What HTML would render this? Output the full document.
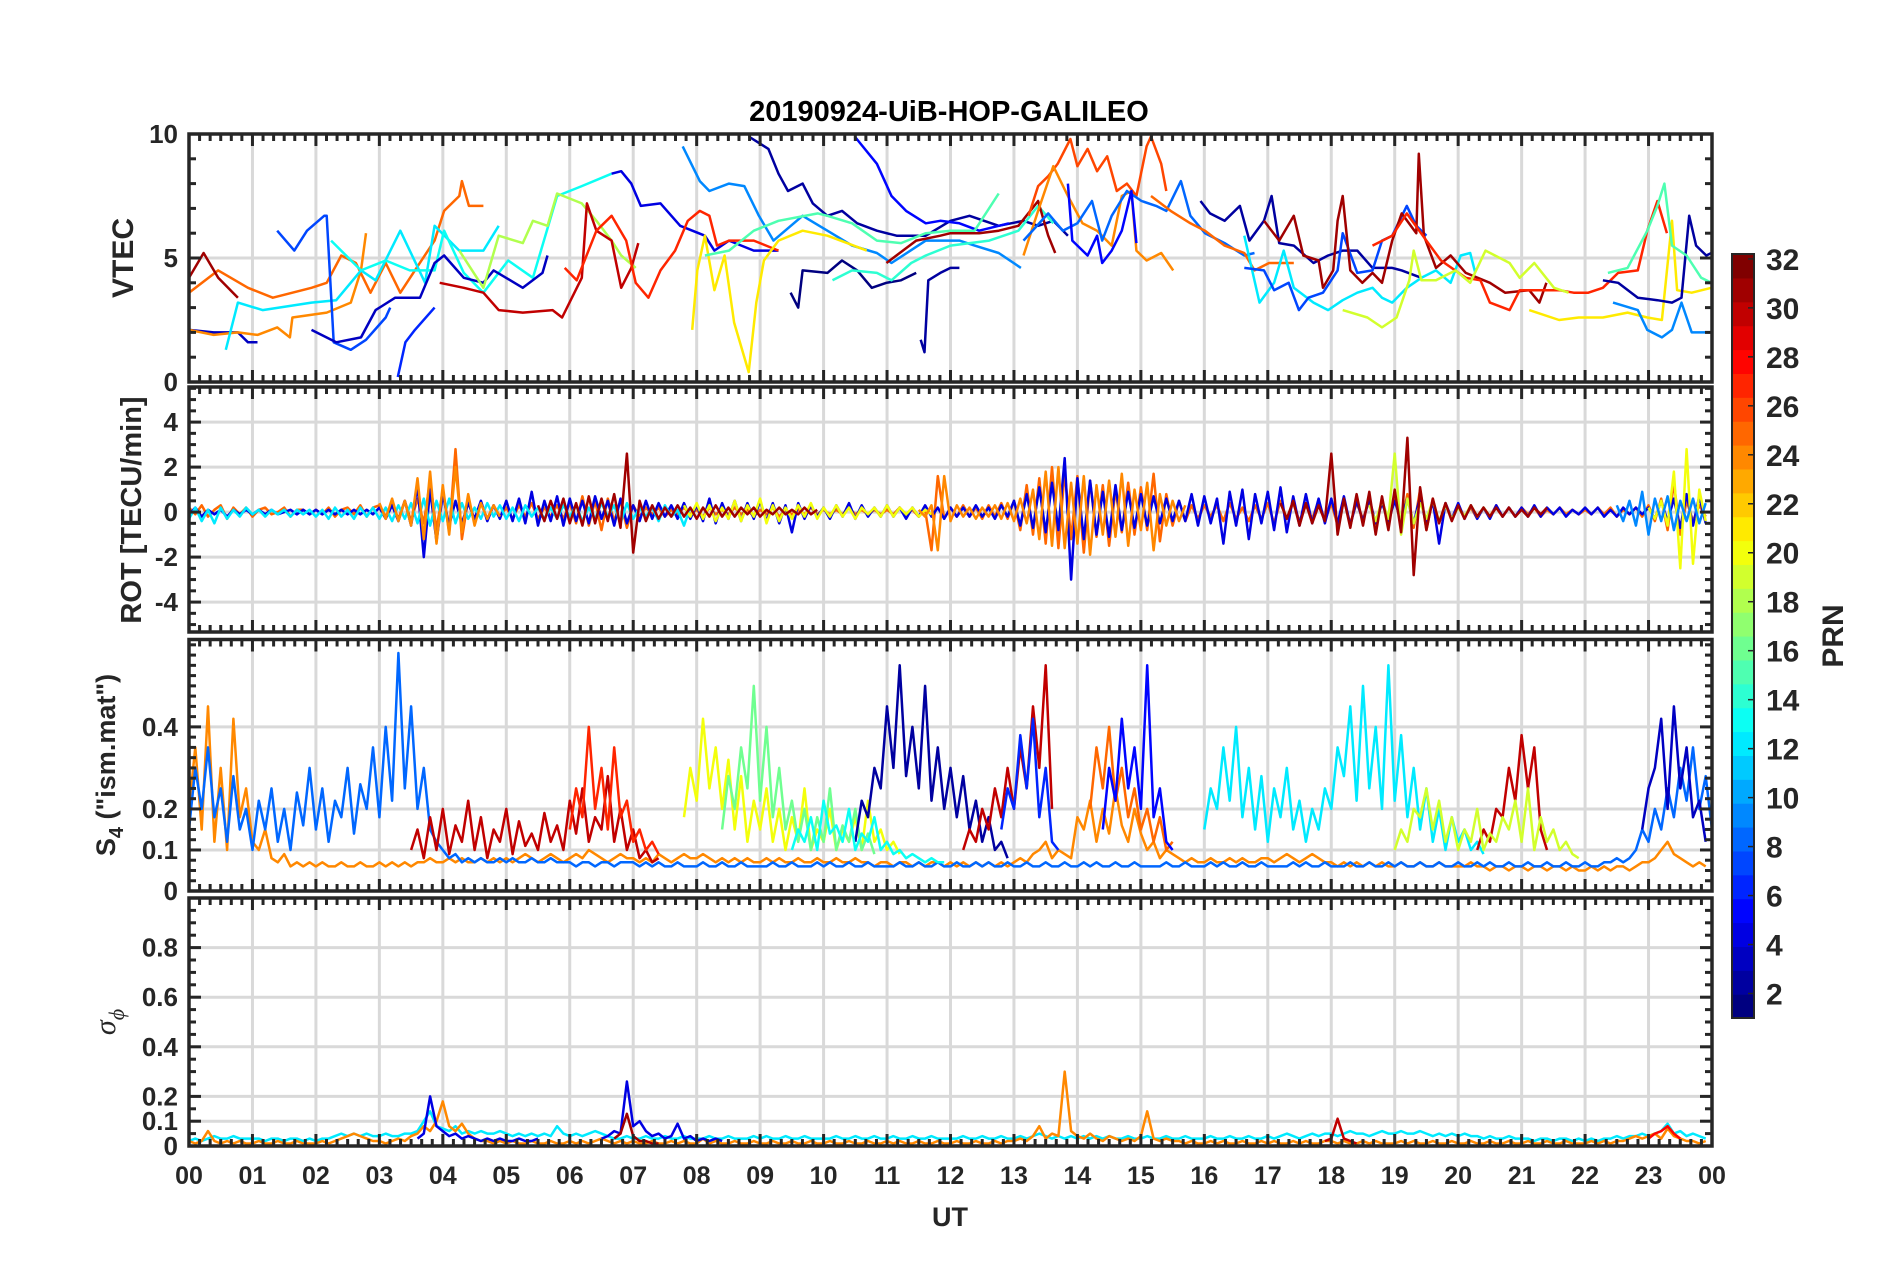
<!DOCTYPE html>
<html><head><meta charset="utf-8"><title>20190924-UiB-HOP-GALILEO</title>
<style>
html,body{margin:0;padding:0;background:#fff;}
svg{display:block;font-family:"Liberation Sans",Arial,sans-serif;}
</style></head>
<body>
<svg id="chart" width="1902" height="1272" viewBox="0 0 1902 1272" xmlns="http://www.w3.org/2000/svg">
<rect width="1902" height="1272" fill="#fff"/>
<text x="949" y="121" font-size="29" font-weight="bold" text-anchor="middle" fill="#000">20190924-UiB-HOP-GALILEO</text>
<text x="950" y="1226" font-size="27" font-weight="bold" text-anchor="middle" fill="#262626">UT</text>
<text transform="translate(133,258) rotate(-90)" font-size="30" font-weight="bold" text-anchor="middle" fill="#262626">VTEC</text>
<text transform="translate(141,510) rotate(-90)" font-size="29" font-weight="bold" text-anchor="middle" fill="#262626">ROT [TECU/min]</text>
<text transform="translate(115,765) rotate(-90)" font-size="27" font-weight="bold" text-anchor="middle" fill="#262626">S<tspan font-size="20" dy="8">4</tspan><tspan dy="-8"> ("ism.mat")</tspan></text>
<text transform="translate(115,1022) rotate(-90)" font-size="30" font-style="italic" text-anchor="middle" fill="#262626" font-family="'Liberation Serif',serif">σ<tspan font-size="22" dy="9">ϕ</tspan></text>
<text transform="translate(1843,636) rotate(-90)" font-size="30" font-weight="bold" text-anchor="middle" fill="#262626">PRN</text>
<g id="layers"></g>
</svg>
<script>
// ---------- DATA ----------
const hourLabels = ["00","01","02","03","04","05","06","07","08","09","10","11","12","13","14","15","16","17","18","19","20","21","22","23","00"];
const vtecTicks = [0,5,10];
const rotTicks = [-4,-2,0,2,4];
const s4Ticks = [0,0.1,0.2,0.4];
const sigTicks = [0,0.1,0.2,0.4,0.6,0.8];
const cbarTicks = [2,4,6,8,10,12,14,16,18,20,22,24,26,28,30,32];

const vtecPrn = [3,24,25,31,12,13,7,3,6,18,4,30,27,9,2,5,21,15,1,2,14,31,26,24,8,5,2,25,12,7,31,27,19,21,9,2,15];
const vtecT = [
[0,.39,.77,.93,1.08],
[0,.39,.77,1.08,1.39,1.59,1.63,2.17,2.55,2.71,2.79],
[0,.46,.93,1.32,1.93,2.17,2.4,2.63,2.86,3.1,3.33,3.56,3.87,4.02,4.26,4.3,4.41,4.64],
[0,.23,.46,.77],
[.58,.77,1.16,1.93,2.32,2.71,2.94,3.33,3.72,3.87,4.26,4.64,4.88],
[2.24,2.71,3.1,3.48,3.87,4.02,4.33,4.64,5.03,5.42,5.8,6.19,6.66],
[1.39,1.66,1.86,2.13,2.17,2.28,2.55,2.79,3.1,3.17],
[1.93,2.32,2.71,2.94,3.25,3.64,3.87,4.02,4.33,4.64,4.8,5.26,5.57,5.65],
[3.29,3.41,3.56,3.87],
[4.26,4.64,4.88,5.26,5.42,5.65,5.8,6.19,6.42,6.66,6.81,7.04],
[6.66,6.81,6.97,7.12,7.43,7.74,8.13,8.28,8.51,8.9,9.29],
[3.95,4.33,4.64,4.88,5.26,5.73,5.88,6.19,6.27,6.42,6.66,6.81,6.97,7.08],
[5.92,6.11,6.42,6.66,6.89,7.04,7.24,7.43,7.66,7.86,8.05,8.2,8.32,8.51,8.9,9.29],
[7.78,8.05,8.2,8.51,8.75,8.98,9.21,9.67,10.06,10.45,10.84,11.07,11.61,12.14,12.38,12.76,13.11],
[8.82,9.13,9.29,9.44,9.67,9.83,10.06,10.29,10.53,10.84,11.15,11.61,12.0,12.3,12.76,13.15,13.38,13.62,13.85],
[10.49,10.84,11.07,11.3,11.61,11.84,12.14,12.45,12.92],
[7.93,8.01,8.13,8.28,8.44,8.59,8.82,8.94,9.06,9.29,9.67,10.06,10.37,10.68],
[8.13,8.51,8.9,9.29,9.91,10.06,10.45,10.84,11.22,11.61,12.0,12.38,12.76],
[9.48,9.6,9.67,10.06,10.29,10.53,10.76,10.99,11.22,11.46],
[11.53,11.59,11.65,11.84,12.0,12.14],
[10.14,10.45,10.84,11.07,11.38,11.61,12.0,12.61,13.07,13.38,13.62],
[10.99,11.46,11.84,12.0,12.45,12.76,13.07,13.38,13.54,13.65],
[13.23,13.38,13.54,13.69,13.89,14.0,14.16,14.31,14.47,14.62,14.78,14.93,15.09,15.16,15.32,15.4],
[13.15,13.38,13.62,13.85,14.08,14.31,14.54,14.7,14.85,14.93,15.09,15.32,15.51],
[13.15,13.54,13.77,14.0,14.23,14.39,14.54,14.78,15.01,15.24,15.4,15.63,15.78,16.01,16.32,16.63,16.79],
[13.85,13.92,14.16,14.31,14.39,14.54,14.7,14.85,14.93],
[15.94,16.09,16.32,16.56,16.71,16.94,17.06,17.18,17.41,17.72,17.95,18.18,18.41,18.65,18.96,19.11,19.42],
[15.16,15.47,15.78,16.01,16.32,16.63,16.79,17.02,17.41],
[16.63,16.87,17.1,17.25,17.41,17.72,17.95,18.18,18.41,18.65,18.8,18.96,19.19,19.42,19.65,19.88,20.04,20.19,20.27],
[16.63,16.94,17.1,17.33,17.49,17.64,17.87,18.1,18.18,18.41,18.65,18.8,18.96,19.19,19.34,19.5],
[16.94,17.18,17.41,17.56,17.8,17.87,18.03,18.1,18.18,18.3,18.49,18.65,18.8,18.96,19.11,19.34,19.38,19.46,19.65,19.88,20.12,20.5,20.74,21.12,21.28,21.39],
[18.65,18.96,19.19,19.5,19.73,20.12,20.35,20.5,20.81,20.97,21.28,21.59,21.82,22.05,22.28,22.52,22.83,22.98,23.14,23.29],
[18.18,18.57,18.8,19.03,19.23,19.3,19.42,19.65,19.96,20.19,20.43,20.58,20.81,20.97,21.2,21.51,21.74],
[21.12,21.59,21.9,22.28,22.67,22.98,23.21,23.37,23.45,23.68,23.99],
[22.44,22.83,22.98,23.21,23.37,23.52,23.68,23.99],
[22.28,22.52,22.83,23.14,23.37,23.52,23.64,23.75,23.91,23.99],
[22.36,22.67,22.98,23.14,23.25,23.37,23.6,23.83,23.99]
];
const vtecV = [
[2.1,2.0,2.0,1.6,1.6],
[2.1,1.9,2.0,1.9,2.2,1.8,2.6,2.8,3.2,4.5,6.0],
[3.6,4.5,3.8,3.4,3.8,4.0,5.1,4.8,3.6,4.8,3.6,4.5,5.7,6.9,7.5,8.1,7.1,7.1],
[4.2,5.2,4.2,3.4],
[1.3,3.2,2.9,3.2,3.3,4.5,4.1,6.1,4.0,6.3,5.3,5.3,6.3],
[5.7,4.5,4.9,4.5,4.5,6.1,4.4,3.6,4.9,4.2,7.5,7.9,8.4],
[6.1,5.3,6.1,6.7,6.7,1.6,1.3,1.7,2.6,3.0],
[2.1,1.6,1.8,2.9,3.4,3.4,4.8,5.1,4.2,4.0,4.5,3.8,4.4,5.1],
[0.2,1.6,2.1,3.0],
[5.3,3.8,5.9,5.6,6.5,6.3,7.6,7.2,6.5,5.7,5.1,4.6],
[8.4,8.5,8.0,7.1,7.2,6.3,5.9,5.3,5.7,5.3,5.3],
[4.0,3.8,3.6,2.9,2.8,2.9,2.6,4.2,7.2,6.1,5.7,3.8,4.6,5.6],
[4.6,4.1,6.1,6.7,5.7,4.0,3.4,4.5,5.3,6.5,6.9,6.7,5.5,5.7,5.7,5.3],
[9.5,8.1,7.7,8.0,7.9,6.7,5.7,6.7,6.1,5.5,5.2,4.8,5.7,5.7,5.5,5.2,4.6],
[9.9,9.4,8.4,7.7,8.0,7.2,6.7,6.9,6.4,6.1,5.9,5.9,6.5,6.7,6.3,6.5,6.3,6.5,5.9],
[9.9,8.8,7.5,6.9,6.4,6.5,6.4,6.1,6.4],
[2.1,4.5,5.9,3.7,5.1,2.4,0.4,3.2,4.9,5.7,6.1,5.9,5.6,5.3],
[5.1,5.3,6.1,6.5,6.8,6.7,6.4,5.7,5.6,6.0,6.1,6.1,7.6],
[3.6,3.0,4.5,4.4,4.9,4.5,3.8,4.0,4.1,4.4],
[1.7,1.2,4.1,4.4,4.6,4.6],
[4.1,4.5,4.4,4.1,4.8,5.1,5.5,5.7,6.1,7.1,6.4],
[4.8,5.7,5.9,6.0,6.0,6.1,6.3,7.3,5.9,5.2],
[6.7,7.9,8.3,8.8,9.8,8.7,9.4,8.5,9.1,7.7,8.0,7.5,9.5,9.9,8.8,7.7],
[5.1,6.9,8.7,7.5,6.4,6.1,5.5,7.5,7.7,5.3,4.9,5.2,4.5],
[5.7,6.8,6.1,6.4,7.3,5.7,6.7,7.7,7.3,7.1,6.9,8.1,6.7,6.0,5.6,5.1,5.2],
[8.0,5.7,5.1,5.9,4.8,5.3,6.1,7.7,5.6],
[7.3,6.8,6.5,7.1,5.7,6.5,7.5,5.6,5.5,4.8,5.1,5.3,5.3,4.6,4.6,4.5,4.2],
[7.5,6.9,6.4,6.1,5.5,5.2,4.5,4.8,4.8],
[5.9,3.2,4.0,5.3,3.8,3.2,2.9,3.3,3.6,3.8,3.4,3.2,3.8,4.2,4.5,4.0,5.1,5.2,4.4],
[4.6,4.5,3.7,4.0,2.9,3.4,3.6,4.5,6.0,4.4,4.5,5.7,5.9,7.1,6.3,5.9],
[6.5,5.7,6.7,5.1,4.9,3.8,4.5,6.5,7.5,4.5,4.0,4.4,4.0,5.7,6.8,6.0,9.2,5.9,4.6,5.1,4.4,4.0,3.6,3.7,3.2,4.0],
[5.5,5.9,6.8,5.7,4.9,4.2,4.1,3.2,2.9,3.7,3.7,3.7,3.6,3.6,3.8,4.4,4.5,6.1,7.3,6.0],
[2.9,2.6,2.2,2.6,4.1,5.3,4.1,4.1,4.5,4.0,5.3,5.1,4.8,4.2,4.8,3.8,3.6],
[2.9,2.5,2.6,2.6,2.8,2.6,2.5,6.5,3.7,3.6,3.8],
[3.2,2.9,2.1,1.8,2.1,3.2,2.0,2.0],
[4.1,4.0,3.4,3.3,3.2,3.4,6.7,5.5,5.1,5.2],
[4.4,4.6,6.1,7.1,8.0,5.5,5.1,4.2,4.0]
];

const rotPrn = [25,4,12,20,19,20,31,31,24,24,9];
const rotStart = [0,0,0,7.8,18.6,23.0,5.5,17.2,3.0,11.5,22.5];
const rotV = [
[.2,-.1,.3,-.2,.1,.3,-.3,.2,-.1,.2,-.2,.1,.2,-.1,0,.2,-.2,.1,.1,-.1,.1,-.1,.2,-.2,.1,.2,-.1,.3,-.2,.2,.3,-.2,.4,-.3,.5,-.4,.6,-.5,1.4,-.8,1.0,-.9,2.8,-1.2,.6,-.5,.4,-.3,.3,-.2,.2,-.3,.3,-.2,.4,-.3,.2,-.2,.3,-.3,.4,-.5,.7,-.6,.5,-.8,.6,-.4,.5,-.7,.3,-.2,.2,-.1,.2,-.2,.1,-.1,.2,-.1,.1,-.2,.2,-.1,.1,-.1,.2,-.1,.1,-.2,.1,-.1,.2,-.2,.1,-.1,.1,-.1,.2,-.1,.1,-.1,.1,-.1,.2,-.1,.1,-.1,.1,-.1,.1,-.1,.2,-.1,.1,-.2,.1,-1.7,1.6,-.3,.2,-.2,.3,-.2,.2,-.3,.3,-.2,.4,-.3,.5,-.8,1.2,-1.0,1.5,-1.4,2.0,-1.6,1.8,-1.2,1.6,-1.8,1.4,-1.1,1.2,-1.5,1.0,-.9,1.3,-1.0,1.1,-.8,1.7,-1.3,.8,-.6,.5,-.4,.3,-.3,.3,-.2,.3,-.4,.4,-.3,.2,-.4,.3,-.3,.4,-.5,.5,-.3,.4,-.4,.3,-.3,.5,-.4,.4,-.6,.5,-.5,.4,-.3,.5,-.6,.5,-.4,.6,-.5,.8,-.7,1.0,-.8,.6,-.5,.4,-.3,.3,-.2,.2,-.3,.2,-.2,.3,-.2,.2,-.2,.2,-.1,.2,-.2,.1,-.1,.2,-.1,.1,-.1,.1,-.1,.2,-.1,.2,-.2,.1,-.1,.2,-.2,.3,-.4,.6,-.8,1.3,-1.0,.5,-.4,.3,-.2],
[-.1,.2,-.2,.1,-.1,.1,-.2,.1,-.1,.1,-.1,.1,-.1,.1,-.1,0,.1,-.1,.1,-.1,.1,-.1,.1,-.1,.1,-.1,.1,-.1,.1,-.1,.2,-.3,.3,-.4,.5,-.6,1.2,-2.0,1.0,-1.3,.8,-.6,.5,-.5,.4,-.3,.5,-.4,.3,-.3,.5,-.4,.6,-.5,.9,-.6,.5,-.4,.7,-.6,.6,-.4,.5,-.5,.7,-.3,.5,-.6,.6,-.5,.3,-.4,.5,-.3,.4,-.2,.3,-.3,.4,-.3,.3,-.4,.6,-.5,.4,-.3,.5,-.4,.4,-.3,.5,-.4,.4,-.5,.3,-.9,.4,-.3,.3,-.2,.2,-.3,.3,-.2,.4,-.3,.3,-.2,.2,-.2,.3,-.2,.2,-.3,.2,-.2,.3,-.2,.2,-.3,.2,-.2,.2,-.2,.3,-.2,.2,-.3,.3,-.2,.5,-.6,.8,-.7,1.1,-.9,1.3,-.8,2.4,-3.0,1.5,-1.2,1.4,-1.0,.9,-1.1,1.2,-.8,.9,-.7,.8,-.6,.7,-.5,.6,-.4,.5,-.4,.8,-.6,.7,-.5,.6,-1.4,.9,-.6,1.0,-1.2,.8,-.5,.9,-.8,1.1,-.9,.7,-.6,.8,-.5,.6,-.5,.6,-.5,.7,-.6,.5,-.4,.6,-.5,.4,-.4,.5,-.4,.6,-.5,.7,-.6,.5,-1.4,.4,-.3,.4,-.3,.3,-.3,.2,-.3,.3,-.2,.2,-.2,.2,-.2,.3,-.2,.2,-.1,.2,-.2,.1,-.1,.2,-.1,.2,-.2,.1,-.2,.2,-.1,.2,-.1,.2,-.3,.5,-.4,.6,-.7,.8,-.6,.7,-.5],
[-.3,.2,-.4,.1,-.5,.2,-.3,.1,-.2,.2,-.1,.1,-.2,.1,-.1,.1,-.2,.1,-.1,.1,-.2,.1,-.3,.2,-.2,.1,-.3,.2,-.2,.2,-.3,.2,-.4,.3,-.3,.4,-.5,.6,-.6,.5,-.4,.6,-.5,.4,-.3,.2,-.3,.4,-.2,.3,-.3,.2,-.4,.3,-.2,.2,-.3,.2,-.3,.3,-.2,.3,-.4,.2,-.3,.4,-.2,.3,-.5,.4,-.3,.2,-.2,.2,-.4,.3,-.2,.1,-.6,.2],
[.3,-.2,.4,-.3,.3,-.4,.2,-.3,.5,-.4,.3,-.2,.6,-.5,.3,-.4,.2,-.3,.3,-.2,.4,-.3,.2,-.2,.3,-.2,.2,-.3,.2,-.1,.2,-.2,.3,-.2,.2,-.1,.2,-.2,.1,-.1],
[.3,-.4,.5,-.3,2.6,-1.0,.6,-.5,.4,-.3,.5,-.4,.3,-.3,.2,-.2,.3,-.2,.2,-.2],
[.2,-.3,.5,-.6,1.8,-2.5,2.8,-2.3,1.0,-.4],
[.3,-.4,.5,-.3,.6,-.5,.4,-.6,.7,-.5,.6,-.4,.8,-.7,2.6,-1.8,.5,-.4,.3,-.3,.2,-.2,.3,-.2,.2,-.3,.2,-.2,.3,-.2,.2,-.2,.2,-.1,.2,-.2,.1,-.1,.2,-.1,.1,-.1,.2,-.1,.1],
[.4,-.3,.5,-.6,.4,-.5,.3,-.4,2.6,-1.0,.6,-.7,.8,-.6,.9,-1.0,.7,-.8,1.0,-.9,3.3,-2.8,1.1,-.8,.6,-.5,.4,-.4,.3,-.3,.3,-.2,.2,-.2,.2,-.2,.2,-.2,.1,-.2,.2,-.1,.2],
[.4,-.3,.6,-.4,.5,-.6,1.5,-1.2,1.8,-1.4,1.2,-1.0,2.0,-.9,.8,-.6,.4,-.3,.3,-.2],
[.1,-.2,.3,-1.7,1.6,-.4,.3,-.2,.2,-.3,.2,-.2,.3,-.3,.4,-.4,.6,-.5,1.0,-1.2,1.8,-1.5,2.0,-1.6,1.3,-1.4,1.6,-1.9,1.2,-1.0,1.4,-1.1,1.7,-1.5,1.0,-.8,1.3,-1.7,.8,-.6,.5,-.4,.3],
[.3,-.4,.5,-.6,.9,-1.0,.6,-.4,.7,-.8,.5,-.4,.6,-.5,.4]
];

const s4Prn = [24,8,30,27,20,16,2,30,6,25,5,12,30,3,19,13];
const s4Start = [0,0,3.5,6.0,7.8,8.4,10.5,12.2,12.8,14.2,14.4,16.0,20.3,22.9,19.0,9.5];
const s4V = [
[.20,.35,.15,.45,.12,.30,.10,.42,.18,.25,.12,.10,.15,.08,.07,.09,.06,.07,.06,.07,.06,.07,.06,.06,.07,.06,.06,.07,.06,.06,.07,.06,.07,.06,.07,.06,.07,.07,.08,.07,.07,.08,.07,.08,.07,.07,.08,.07,.08,.07,.08,.07,.08,.09,.08,.07,.08,.09,.08,.07,.08,.09,.08,.10,.09,.08,.07,.08,.09,.08,.08,.07,.08,.07,.09,.08,.07,.08,.09,.08,.08,.09,.08,.07,.08,.07,.08,.07,.08,.07,.07,.08,.07,.08,.07,.07,.08,.07,.07,.08,.07,.07,.08,.07,.07,.08,.07,.07,.06,.07,.07,.06,.07,.07,.06,.07,.06,.07,.07,.06,.07,.06,.07,.06,.07,.06,.07,.06,.07,.06,.07,.08,.07,.09,.10,.12,.08,.10,.09,.08,.18,.15,.22,.12,.20,.14,.25,.16,.12,.20,.14,.10,.12,.08,.10,.09,.08,.07,.08,.07,.07,.08,.07,.07,.08,.07,.08,.07,.07,.08,.08,.07,.08,.09,.08,.07,.08,.09,.08,.07,.07,.06,.07,.06,.07,.06,.07,.06,.07,.06,.06,.07,.06,.06,.07,.06,.06,.07,.06,.06,.06,.06,.07,.06,.06,.05,.06,.06,.05,.06,.06,.05,.06,.06,.05,.06,.06,.05,.06,.05,.05,.06,.05,.06,.05,.06,.06,.05,.06,.07,.07,.08,.10,.12,.09,.08,.07,.06,.07,.06],
[.15,.30,.20,.35,.18,.25,.12,.28,.15,.20,.10,.22,.15,.25,.12,.20,.10,.24,.16,.30,.15,.25,.12,.22,.18,.30,.14,.26,.20,.35,.18,.40,.22,.58,.25,.45,.20,.30,.15,.12,.10,.08,.09,.07,.08,.07,.08,.07,.07,.08,.07,.08,.07,.07,.08,.07,.07,.08,.07,.07,.07,.06,.07,.07,.06,.07,.07,.06,.07,.07,.07,.06,.07,.06,.07,.06,.06,.07,.06,.06,.06,.07,.06,.06,.07,.06,.06,.07,.06,.06,.06,.06,.07,.06,.06,.07,.06,.06,.06,.07,.06,.07,.06,.06,.07,.06,.06,.07,.06,.06,.06,.06,.07,.06,.06,.07,.06,.06,.07,.06,.06,.07,.06,.06,.07,.06,.07,.06,.06,.07,.06,.06,.07,.06,.06,.07,.06,.06,.07,.06,.06,.07,.06,.07,.06,.06,.07,.06,.06,.07,.06,.06,.06,.06,.07,.06,.06,.07,.06,.06,.06,.07,.06,.07,.06,.06,.07,.06,.06,.07,.06,.06,.06,.06,.07,.06,.07,.06,.06,.07,.06,.06,.06,.07,.06,.06,.07,.06,.06,.07,.06,.07,.06,.06,.07,.06,.06,.07,.06,.06,.07,.06,.06,.07,.06,.07,.06,.06,.07,.06,.06,.07,.06,.06,.07,.06,.06,.07,.06,.06,.07,.06,.06,.07,.07,.08,.07,.08,.10,.15,.12,.20,.15,.25,.18,.30,.22,.35,.20,.28,.15,.22,.12,.10],
[.10,.15,.08,.18,.10,.20,.09,.16,.12,.22,.10,.18,.08,.15,.12,.20,.09,.17,.11,.14,.10,.19,.12,.16,.10,.22,.14,.25,.12,.18,.15,.28,.12,.20,.10,.15,.08,.10,.07,.08],
[.15,.25,.18,.40,.20,.30,.15,.35,.18,.22,.12,.15,.10,.12,.09],
[.18,.30,.22,.42,.25,.35,.20,.32,.15,.28,.12,.22,.15,.25,.12,.20,.10,.18,.12,.25,.10,.15,.12,.20,.10,.15,.12,.18,.10,.22,.12,.15,.10,.12,.09],
[.15,.28,.20,.35,.25,.50,.22,.40,.18,.30,.15,.22,.12,.20,.10,.18,.12,.25,.10,.16,.12,.20,.10,.14,.09],
[.12,.22,.18,.30,.25,.45,.30,.55,.28,.40,.25,.50,.22,.35,.20,.30,.18,.28,.15,.22,.12,.18,.10,.12,.08],
[.10,.15,.12,.20,.15,.25,.18,.30,.20,.35,.25,.45,.30,.55,.20],
[.15,.25,.20,.38,.25,.42,.18,.30,.12,.10],
[.20,.35,.25,.40,.22,.30,.18,.25,.15,.20,.12,.18,.10,.12],
[.15,.30,.22,.42,.25,.35,.20,.55,.18,.25,.12,.10],
[.15,.25,.20,.35,.22,.40,.18,.30,.15,.28,.12,.25,.18,.30,.15,.22,.12,.20,.15,.25,.20,.35,.28,.45,.22,.50,.25,.40,.20,.55,.22,.38,.18,.30,.15,.25,.12,.20,.10,.18,.12,.15,.10,.12,.09],
[.10,.15,.12,.20,.18,.30,.22,.38,.25,.35,.15,.10],
[.15,.25,.30,.42,.20,.45,.25,.35,.18,.22,.12],
[.10,.15,.12,.20,.18,.25,.15,.22,.12,.18,.10,.15,.12,.20,.10,.14,.12,.18,.15,.22,.12,.25,.10,.18,.12,.15,.10,.12,.09,.08],
[.10,.15,.12,.18,.10,.22,.14,.16,.12,.20,.10,.14,.12,.18,.10,.12,.09,.10,.08,.09,.08,.07,.08,.07,.07]
];

const sigPrn = [12,24,4,4,31,30,28];
const sigStart = [0,0,3.6,6.5,6.7,17.9,23.0];
const sigV = [
[.02,.03,.02,.03,.04,.03,.03,.04,.03,.03,.03,.03,.02,.03,.03,.02,.03,.03,.02,.03,.02,.03,.03,.04,.05,.04,.05,.04,.05,.04,.04,.05,.04,.04,.05,.05,.06,.10,.14,.08,.07,.06,.08,.05,.06,.05,.06,.05,.05,.06,.05,.04,.05,.04,.05,.04,.05,.04,.08,.05,.04,.05,.04,.05,.06,.05,.04,.03,.03,.04,.03,.03,.04,.03,.03,.04,.03,.03,.04,.03,.03,.03,.04,.03,.03,.04,.03,.03,.03,.04,.03,.04,.03,.03,.04,.03,.03,.04,.03,.03,.03,.03,.04,.03,.03,.04,.03,.03,.04,.03,.03,.04,.03,.03,.04,.03,.03,.04,.03,.03,.03,.03,.04,.03,.03,.04,.03,.03,.04,.03,.03,.04,.03,.04,.05,.04,.03,.04,.03,.04,.03,.04,.03,.04,.03,.04,.03,.03,.04,.03,.03,.04,.03,.03,.04,.03,.03,.04,.03,.03,.03,.04,.03,.03,.04,.03,.03,.04,.03,.03,.04,.03,.04,.05,.04,.03,.04,.05,.04,.05,.05,.04,.05,.06,.05,.05,.04,.05,.06,.05,.05,.06,.05,.05,.06,.05,.04,.05,.04,.05,.04,.05,.04,.04,.03,.04,.03,.03,.04,.03,.03,.03,.02,.03,.03,.02,.03,.03,.02,.03,.02,.03,.02,.03,.03,.04,.03,.04,.04,.05,.04,.05,.06,.09,.05,.06,.04,.05,.04,.03],
[.02,.01,.02,.06,.02,.01,.02,.01,.02,.01,.01,.02,.01,.01,.02,.01,.01,.02,.01,.01,.01,.02,.01,.02,.03,.04,.05,.04,.03,.02,.02,.01,.02,.03,.02,.04,.05,.08,.06,.10,.18,.08,.06,.09,.05,.03,.02,.02,.01,.02,.01,.02,.01,.01,.02,.01,.01,.02,.01,.01,.02,.01,.02,.01,.02,.03,.02,.01,.02,.01,.02,.01,.01,.02,.01,.01,.02,.01,.02,.01,.01,.03,.01,.02,.01,.01,.02,.01,.01,.02,.01,.01,.02,.01,.01,.02,.01,.01,.02,.01,.01,.02,.01,.01,.02,.01,.01,.02,.01,.01,.02,.01,.02,.01,.01,.02,.01,.01,.02,.01,.01,.02,.01,.01,.02,.01,.01,.02,.01,.02,.02,.03,.02,.04,.08,.03,.05,.04,.30,.06,.04,.03,.05,.03,.02,.04,.03,.02,.03,.02,.04,.14,.03,.02,.03,.02,.02,.01,.02,.01,.01,.02,.01,.02,.01,.01,.02,.01,.01,.02,.01,.02,.01,.01,.02,.01,.02,.01,.01,.02,.02,.01,.02,.01,.01,.02,.01,.02,.01,.01,.01,.02,.01,.02,.01,.01,.02,.01,.01,.02,.01,.01,.02,.01,.01,.02,.01,.01,.02,.01,.01,.02,.01,.01,.02,.01,.01,.02,.01,.01,.01,.02,.01,.02,.01,.02,.02,.03,.04,.03,.04,.05,.03,.07,.04,.03,.02,.02,.01,.02],
[.03,.05,.20,.08,.06,.04,.05,.03,.04,.03,.02,.03,.02,.03,.02,.02,.03,.02,.02,.03],
[.03,.04,.06,.05,.26,.08,.10,.06,.04,.05,.03,.04,.09,.03,.04,.02,.03,.02,.03,.02],
[.03,.05,.13,.04,.02,.02,.01,.01],
[.02,.03,.11,.03,.02,.01],
[.03,.05,.06,.08,.05,.03]
];

// ---------- LAYOUT ----------
const NS = "http://www.w3.org/2000/svg";
const X0 = 189, X1 = 1712;
const panels = [
  {key:"vtec", top:134, bot:382, min:0, max:10, ticks:vtecTicks, minor:1},
  {key:"rot", top:387, bot:632, min:-5.33, max:5.56, ticks:rotTicks, minor:0.5},
  {key:"s4", top:639.5, bot:891, min:0, max:0.613, ticks:s4Ticks, minor:0.025},
  {key:"sigma", top:898, bot:1146, min:0, max:1.0, ticks:sigTicks, minor:0.05}
];
const xs = h => X0 + (X1 - X0) * h / 24;
function ys(p, v){ return p.bot - (p.bot - p.top) * (v - p.min) / (p.max - p.min); }
function jet(p){
  const t = (p - 1) / 31;
  const c = x => Math.round(255 * Math.max(0, Math.min(1, x)));
  return "rgb(" + c(1.5 - Math.abs(4*t - 3)) + "," + c(1.5 - Math.abs(4*t - 2)) + "," + c(1.5 - Math.abs(4*t - 1)) + ")";
}
function mk(tag, attrs, parent){
  const e = document.createElementNS(NS, tag);
  for (const k in attrs) e.setAttribute(k, attrs[k]);
  parent.appendChild(e);
  return e;
}
const root = document.getElementById("layers");
const defs = mk("defs", {}, root);

panels.forEach((p, pi) => {
  const g = mk("g", {}, root);
  
  
  const cp = mk("clipPath", {id: "clip" + pi}, defs);
  mk("rect", {x: X0, y: p.top, width: X1 - X0, height: p.bot - p.top}, cp);
  const grid = mk("g", {stroke: "#d9d9d9", "stroke-width": 3}, g);
  
  
  for (let h = 1; h < 24; h++) mk("line", {x1: xs(h), x2: xs(h), y1: p.top, y2: p.bot}, grid);
  p.ticks.forEach(v => { const y = ys(p, v); if (y > p.top + 2 && y < p.bot - 2) mk("line", {x1: X0, x2: X1, y1: y, y2: y}, grid); });
  p.layer = mk("g", {"clip-path": "url(#clip" + pi + ")", fill: "none", "stroke-width": 2.5, "stroke-linejoin": "round"}, g);
  
  
  const tk = mk("g", {stroke: "#262626", "stroke-width": 3}, g);
  
  
  for (let m = 0; m <= 144; m++) {
    const x = xs(m / 6), L = (m % 6 === 0) ? 12 : 7;
    mk("line", {x1: x, x2: x, y1: p.top, y2: p.top + L}, tk);
    mk("line", {x1: x, x2: x, y1: p.bot, y2: p.bot - L}, tk);
  }
  const nMin = Math.ceil(p.min / p.minor), nMax = Math.floor(p.max / p.minor);
  for (let k = nMin; k <= nMax; k++) {
    const v = k * p.minor, y = ys(p, v);
    const major = p.ticks.some(t => Math.abs(t - v) < 1e-6);
    const L = major ? 12 : 7;
    mk("line", {x1: X0, x2: X0 + L, y1: y, y2: y}, tk);
    mk("line", {x1: X1, x2: X1 - L, y1: y, y2: y}, tk);
  }
  p.ticks.forEach(v => {
    const t = mk("text", {x: 178, y: ys(p, v) + 9, "font-size": 26, "font-weight": "bold", "text-anchor": "end", fill: "#262626"}, g);
    
    
    t.textContent = String(v);
  });
  const box = mk("rect", {x: X0, y: p.top, width: X1 - X0, height: p.bot - p.top, fill: "none", stroke: "#262626", "stroke-width": 3.5}, g);
  
  
});

function drawLine(p, ts, vs, prn, name){
  let d = "";
  for (let i = 0; i < vs.length; i++) d += (i ? "L" : "M") + xs(ts[i]).toFixed(1) + "," + ys(p, vs[i]).toFixed(1);
  const e = mk("path", {d: d, stroke: jet(prn)}, p.layer);
  
  
}
vtecPrn.forEach((prn, i) => drawLine(panels[0], vtecT[i], vtecV[i], prn, 'vtec-prn-' + prn));
function drawStep(p, starts, vals, prns, key){
  prns.forEach((prn, i) => {
    const ts = vals[i].map((_, j) => starts[i] + 0.1 * j);
    drawLine(p, ts, vals[i], prn, key + '-prn-' + prn);
  });
}
drawStep(panels[1], rotStart, rotV, rotPrn, 'rot');
drawStep(panels[2], s4Start, s4V, s4Prn, 's4');
drawStep(panels[3], sigStart, sigV, sigPrn, 'sigma');

const xl = mk("g", {"font-size": 25, "font-weight": "bold", "text-anchor": "middle", fill: "#262626"}, root);


hourLabels.forEach((s, h) => {
  const t = mk("text", {x: xs(h), y: 1184}, xl);
  
  
  t.textContent = s;
});

const CB = {x: 1732, w: 22, top: 254, bot: 1018, lo: 1, hi: 32.2};
const cb = mk("g", {}, root);


const cy = v => CB.bot - (CB.bot - CB.top) * (v - CB.lo) / (CB.hi - CB.lo);
for (let k = 0; k < 32; k++) {
  const y0 = CB.bot - (CB.bot - CB.top) * k / 32, y1 = CB.bot - (CB.bot - CB.top) * (k + 1) / 32;
  const r = mk("rect", {x: CB.x, y: y1, width: CB.w, height: y0 - y1 + 0.6, fill: jet(k + 1)}, cb);
  
  
}
mk("rect", {x: CB.x, y: CB.top, width: CB.w, height: CB.bot - CB.top, fill: "none", stroke: "#262626", "stroke-width": 2}, cb);
cbarTicks.forEach(v => {
  const y = cy(v);
  mk("line", {x1: CB.x + CB.w - 6, x2: CB.x + CB.w, y1: y, y2: y, stroke: "#262626", "stroke-width": 1.5}, cb);
  const t = mk("text", {x: 1766, y: y + 11, "font-size": 30, "font-weight": "bold", fill: "#262626"}, cb);
  
  
  t.textContent = v;
});
</script>
</body></html>
